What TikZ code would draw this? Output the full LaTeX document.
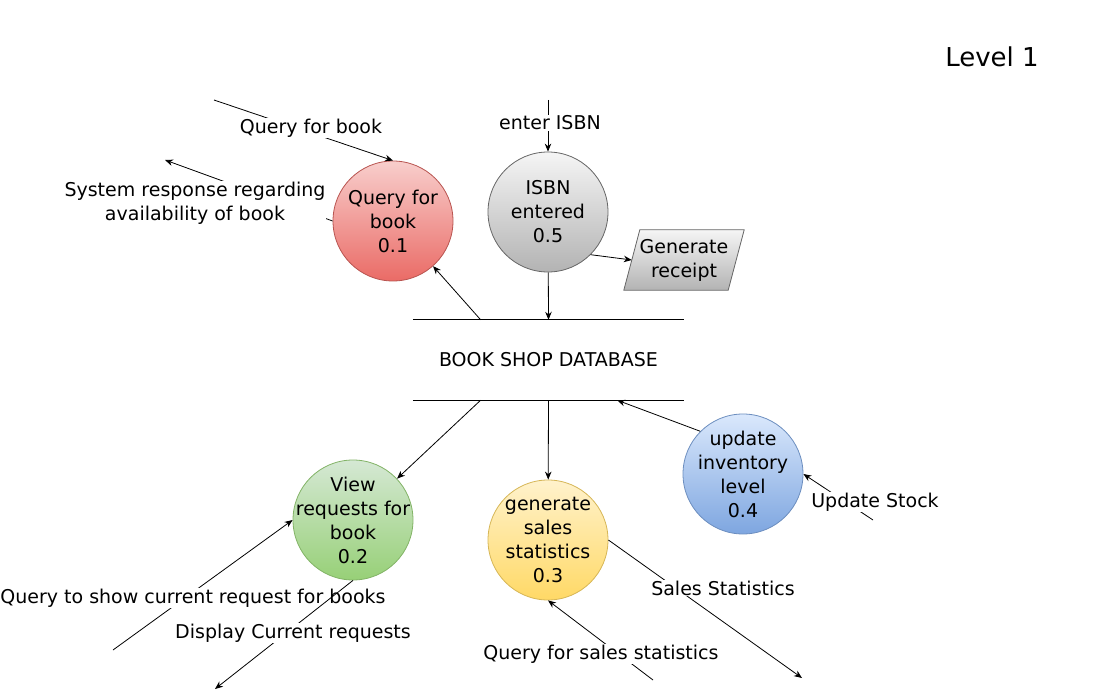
\documentclass[tikz,border=0pt]{standalone}
\usepackage{fontspec}
\setmainfont{DejaVu Sans}
\usetikzlibrary{arrows.meta,calc,shapes.geometric}
\definecolor{rT}{HTML}{F8CECC}\definecolor{rB}{HTML}{EA6B66}\definecolor{rD}{HTML}{B85450}
\definecolor{gT}{HTML}{F5F5F5}\definecolor{gB}{HTML}{B3B3B3}\definecolor{gD}{HTML}{666666}
\definecolor{nT}{HTML}{D5E8D4}\definecolor{nB}{HTML}{97D077}\definecolor{nD}{HTML}{82B366}
\definecolor{yT}{HTML}{FFF2CC}\definecolor{yB}{HTML}{FFD966}\definecolor{yD}{HTML}{D6B656}
\definecolor{bT}{HTML}{DAE8FC}\definecolor{bB}{HTML}{7EA6E0}\definecolor{bD}{HTML}{6C8EBF}
\begin{document}
\begin{tikzpicture}[x=1pt,y=-1pt,
  every node/.style={font=\fontsize{19}{24}\selectfont},
  proc/.style={circle, minimum size=120pt, inner sep=0pt, line width=0.8pt},
  ptxt/.style={align=center},
  arr/.style={-{Stealth[length=8pt,width=6.5pt]}, line width=0.8pt},
  lbl/.style={fill=white, inner sep=1pt, align=center},
  dbline/.style={line width=1.2pt}]
\useasboundingbox (0,0) rectangle (1103,700);

% processes
\node[proc, top color=rT, bottom color=rB, draw=rD,
  label={[ptxt]center:{Query for\\book\\0.1}}] (c1) at (393,221) {};
\node[proc, top color=gT, bottom color=gB, draw=gD,
  label={[ptxt]center:{ISBN\\entered\\0.5}}] (c5) at (548,212) {};
\node[proc, top color=nT, bottom color=nB, draw=nD,
  label={[ptxt]center:{View\\requests for\\book\\0.2}}] (c2) at (353,520) {};
\node[proc, top color=yT, bottom color=yB, draw=yD,
  label={[ptxt]center:{generate\\sales\\statistics\\0.3}}] (c3) at (548,540) {};
\node[proc, top color=bT, bottom color=bB, draw=bD,
  label={[ptxt]center:{update\\inventory\\level\\0.4}}] (c4) at (743,474) {};

% receipt (parallelogram drawn around a text node)
\node[minimum width=104pt, minimum height=60pt, inner sep=0pt, align=center] (rcpt) at (684,260) {};
\path[shading=axis, shading angle=180, top color=gT, bottom color=gB, draw=gD, line width=0.8pt]
  ($(rcpt.south west)+(-8,0)$) -- ($(rcpt.north west)+(8,0)$) -- ($(rcpt.north east)+(8,0)$)
  -- ($(rcpt.south east)+(-8,0)$) -- cycle;
\node[align=center] (rcptT) at (rcpt.center) {Generate\\receipt};

% data store
\node[minimum width=271pt, minimum height=80pt, inner sep=0pt] (db) at (548.5,360) {BOOK SHOP DATABASE};
\draw[dbline] (db.north west) -- (db.north east);
\draw[dbline] (db.south west) -- (db.south east);
\coordinate (dbA) at ($(db.north west)!0.25!(db.north east)$);
\coordinate (dbB) at ($(db.south west)!0.25!(db.south east)$);
\coordinate (dbC) at ($(db.south west)!0.753!(db.south east)$);

% internal flows
\draw[arr] (dbA) -- (c1);
\draw[arr] (c5) -- (db.north);
\draw[arr] (c5.-45) -- (rcpt.west);
\draw[arr] (dbB) -- (c2);
\draw[arr] (db.south) -- (c3);
\draw[arr] (c4.135) -- (dbC);

% level
\node[font=\fontsize{26}{30}\selectfont] (lvl) at (992,57) {Level 1};

% external flows
\coordinate (isbnS) at (548,100);
\draw[arr] (isbnS) -- (c5.north);
\node[lbl] (lisbn) at (550,123) {enter ISBN};

\coordinate (qbS) at (214,100);
\draw[arr] (qbS) -- (c1.north);
\node[lbl] (lqb) at (311,128) {Query for book};

\coordinate (srE) at (165,160);
\draw[arr] (c1.west) -- (srE);
\node[lbl] (lsr) at (195,203) {System response regarding\\availability of book};

\coordinate (qsS) at (113,650);
\draw[arr] (qsS) -- (c2.west);
\node[lbl] (lqs) at (193,598) {Query to show current request for books};

\coordinate (dcE) at (215,689);
\draw[arr] (c2.south) -- (dcE);
\node[lbl] (ldc) at (293,633) {Display Current requests};

\coordinate (ssE) at (802,678);
\draw[arr] (c3.east) -- (ssE);
\node[lbl] (lss) at (723,588) {Sales Statistics};

\coordinate (qssS) at (653,680);
\draw[arr] (qssS) -- (c3.south);
\node[lbl] (lqss) at (601,654) {Query for sales statistics};

\coordinate (usS) at (873,520);
\draw[arr] (usS) -- (c4.east);
\node[lbl] (lus) at (875,502) {Update Stock};
\end{tikzpicture}
\end{document}
